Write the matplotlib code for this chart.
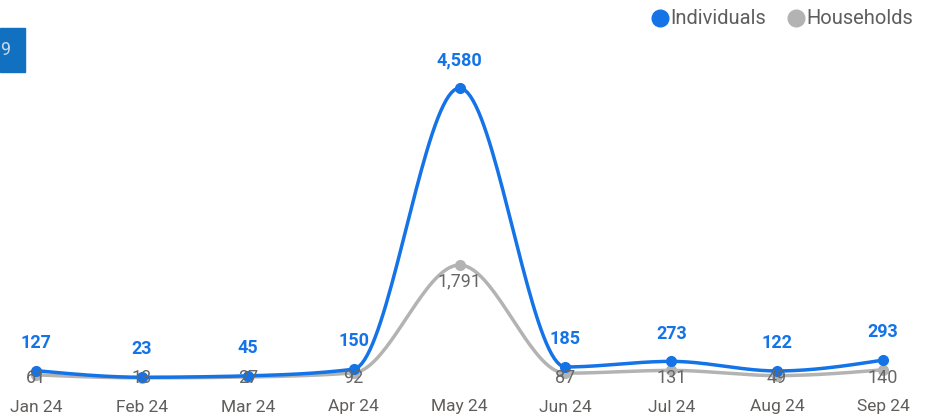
import numpy as np
import matplotlib.pyplot as plt
from matplotlib.transforms import blended_transform_factory

months = ["Jan 24", "Feb 24", "Mar 24", "Apr 24", "May 24", "Jun 24", "Jul 24", "Aug 24", "Sep 24"]
individuals = [127, 23, 45, 150, 4580, 185, 273, 122, 293]
households = [61, 13, 27, 92, 1791, 87, 131, 49, 140]

blue = "#1473E6"
grey = "#B3B3B3"
text_grey = "#605E5C"

plt.rcParams['font.family'] = ['Roboto', 'DejaVu Sans']


def monotone_curve(y, n=40):
    # same idea as d3.curveMonotoneX: cubic with monotone tangents
    y = np.asarray(y, dtype=float)
    x = np.arange(len(y), dtype=float)
    s = np.diff(y)
    t = np.zeros(len(y))
    for i in range(1, len(y) - 1):
        s0, s1 = s[i - 1], s[i]
        p = (s0 + s1) / 2
        t[i] = (np.sign(s0) + np.sign(s1)) * min(abs(s0), abs(s1), 0.5 * abs(p))
    t[0] = (3 * s[0] - t[1]) / 2
    t[-1] = (3 * s[-1] - t[-2]) / 2
    xs, ys = [], []
    for i in range(len(y) - 1):
        u = np.linspace(0, 1, n)
        p0, p3 = y[i], y[i + 1]
        p1 = p0 + t[i] / 3
        p2 = p3 - t[i + 1] / 3
        b = (1 - u) ** 3 * p0 + 3 * (1 - u) ** 2 * u * p1 + 3 * (1 - u) * u ** 2 * p2 + u ** 3 * p3
        xs.extend(x[i] + u)
        ys.extend(b)
    return np.array(xs), np.array(ys)


fig = plt.figure(figsize=(9.36, 4.18), dpi=100)
ax = fig.add_axes([0, 0, 1, 1])
ax.axis("off")

# pixel mapping: Jan at x=36, Sep at x=883; zero at y=378.7, 4580 at y=88
px_per_x = (883 - 36) / 8
px_per_y = (265 - 88) / (4580 - 1791)
ax.set_xlim(-36 / px_per_x, (936 - 36) / px_per_x)
ax.set_ylim(-(418 - 378.7) / px_per_y, 378.7 / px_per_y)

x = np.arange(len(months))

hx, hy = monotone_curve(households)
ax.plot(hx, hy, color=grey, lw=2.5, solid_capstyle="round", zorder=2)
ax.plot(x, households, "o", color=grey, ms=7, zorder=2)

ix, iy = monotone_curve(individuals)
ax.plot(ix, iy, color=blue, lw=2.5, solid_capstyle="round", zorder=3)
ax.plot(x, individuals, "o", color=blue, ms=7, zorder=3)

# data labels
for i, v in enumerate(individuals):
    ax.annotate(f"{v:,}", (i, v), xytext=(0, 20), textcoords="offset points",
                ha="center", va="center", color=blue, fontsize=13, fontweight="bold", zorder=4)

floor = ax.get_ylim()[0] + 40 / px_per_y
for i, v in enumerate(households):
    ly = max(v - 16 / px_per_y, floor)
    ax.text(i, ly, f"{v:,}", ha="center", va="center", color="#666666", fontsize=13, zorder=4)

# month labels
trans = blended_transform_factory(ax.transData, fig.transFigure)
for i, m in enumerate(months):
    ax.text(i, 1 - 407 / 418, m, transform=trans, ha="center", va="center",
            color=text_grey, fontsize=12.5)

# legend
ax.plot([660 / 936], [1 - 18 / 418], "o", color=blue, ms=12, transform=fig.transFigure, clip_on=False)
fig.text(670 / 936, 1 - 18 / 418, "Individuals", color=text_grey, fontsize=14.5, va="center")
ax.plot([796 / 936], [1 - 18 / 418], "o", color=grey, ms=12, transform=fig.transFigure, clip_on=False)
fig.text(806 / 936, 1 - 18 / 418, "Households", color=text_grey, fontsize=14.5, va="center")

# cut off badge on the left
fig.patches.append(plt.Rectangle((0, 1 - 72 / 418), 25 / 936, 44 / 418,
                                 transform=fig.transFigure, color="#1170C0", zorder=0))
fig.text(0, 1 - 50 / 418, "9", color="#C9D8E8", fontsize=13, va="center")

plt.savefig("out.png", dpi=100)
